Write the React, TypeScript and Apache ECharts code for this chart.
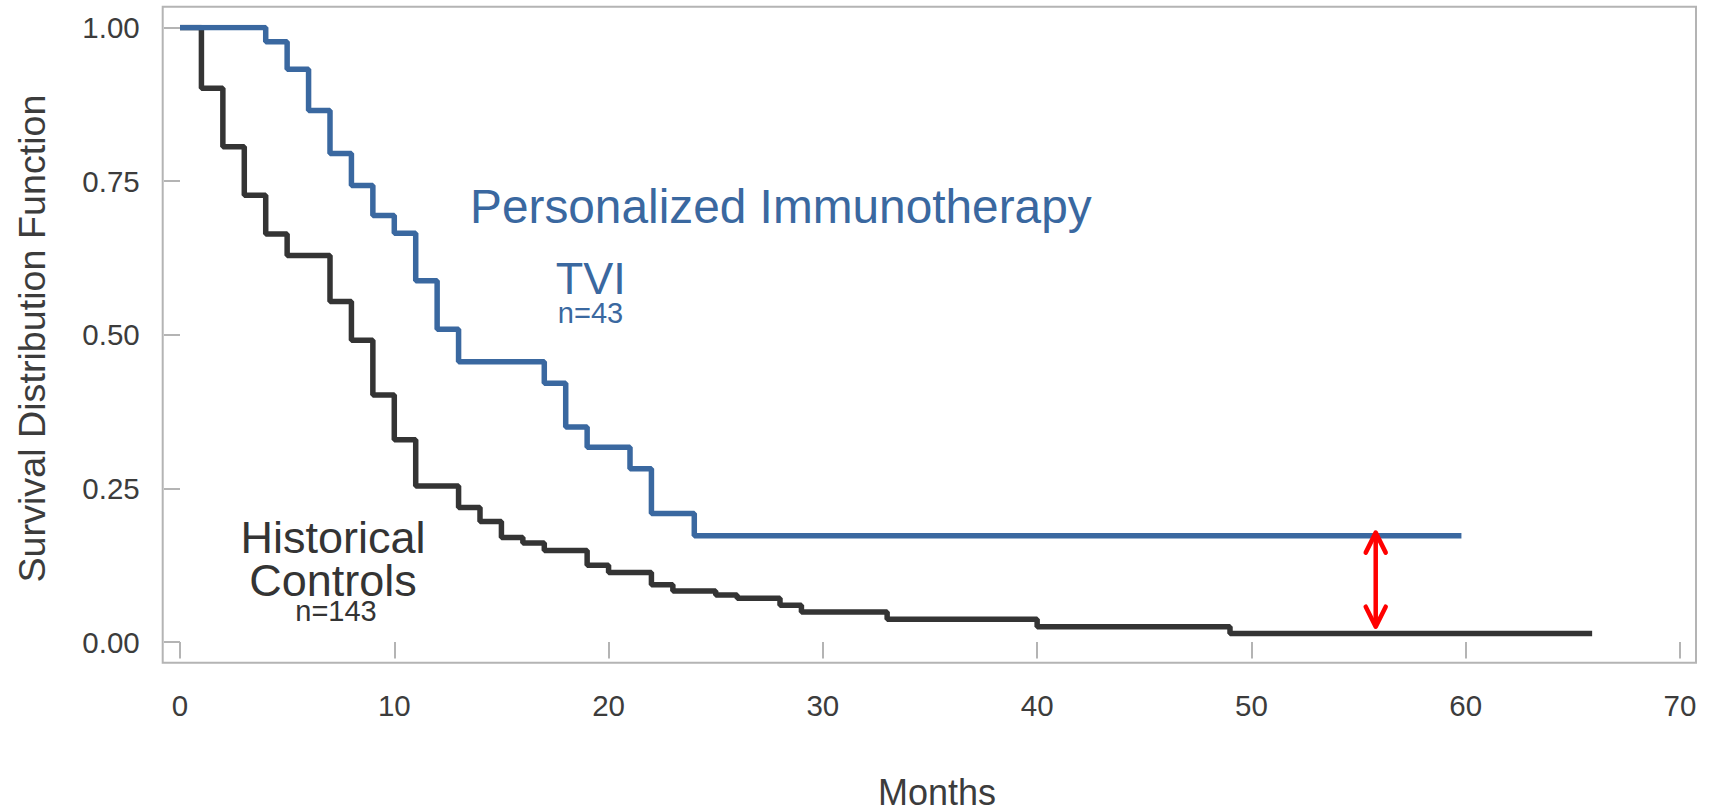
import React, { useEffect, useRef } from "react";
import * as echarts from "echarts";

// Kaplan-Meier estimates
const tviMonths = [0, 4, 5, 6, 7, 8, 9, 10, 11, 12, 13, 17, 18, 19, 21, 22, 24, 59.8];
const tviSurvival = [1.0, 0.977, 0.932, 0.865, 0.795, 0.743, 0.694, 0.665, 0.588, 0.509, 0.456, 0.421, 0.35, 0.317, 0.282, 0.209, 0.173, 0.173];

const histMonths = [0, 1, 2, 3, 4, 5, 7, 8, 9, 10, 11, 13, 14, 15, 16, 17, 19, 20, 22, 23, 25, 26, 28, 29, 33, 40, 49, 65.9];
const histSurvival = [1.0, 0.901, 0.806, 0.727, 0.664, 0.629, 0.554, 0.491, 0.402, 0.329, 0.254, 0.219, 0.196, 0.17, 0.161, 0.149, 0.125, 0.113, 0.093, 0.083, 0.0765, 0.071, 0.06, 0.049, 0.037, 0.025, 0.014, 0.014];

// Difference arrow: [month, top value, bottom value]
const arrowSpan = [55.8, 0.178, 0.025];

const xAxisRange = [0, 70, 10];
const yAxisRange = [0, 1, 0.25];

const FONT = "'Liberation Sans', Arial, Helvetica, sans-serif";
const BLUE = "#3a68a0";
const DARK = "#343434";
const GRAY = "#b4b4b4";
const LABEL = "#3c3c3c";

function label(text: string, x: number, y: number, size: number, color: string, align = "center", lh?: number) {
  return {
    type: "text",
    x,
    y,
    style: {
      text,
      fontFamily: FONT,
      fontSize: size,
      lineHeight: lh ?? size,
      fill: color,
      align,
      verticalAlign: "middle",
    },
  };
}

export default function App() {
  const ref = useRef<HTMLDivElement>(null);

  useEffect(() => {
    document.body.style.margin = "0";
    if (!ref.current) return;
    const chart = echarts.init(ref.current, null, { renderer: "svg" });

    const tviData = tviMonths.map((m, i) => [m, tviSurvival[i]]);
    const histData = histMonths.map((m, i) => [m, histSurvival[i]]);

    const option: any = {
      animation: false,
      backgroundColor: "#ffffff",
      grid: { left: 180, right: 32, top: 27.5, bottom: 169, containLabel: false },
      xAxis: {
        type: "value",
        min: xAxisRange[0],
        max: xAxisRange[1],
        interval: xAxisRange[2],
        offset: 20.7,
        axisLine: { show: false },
        axisTick: { show: true, length: 16.5, lineStyle: { color: GRAY, width: 2 } },
        axisLabel: { fontFamily: FONT, fontSize: 29.5, color: LABEL, margin: 28 },
        splitLine: { show: false },
      },
      yAxis: {
        type: "value",
        min: yAxisRange[0],
        max: yAxisRange[1],
        interval: yAxisRange[2],
        offset: 17.3,
        axisLine: { show: false },
        axisTick: { show: true, length: 16, lineStyle: { color: GRAY, width: 2 } },
        axisLabel: {
          fontFamily: FONT,
          fontSize: 29.5,
          color: LABEL,
          margin: 23,
          formatter: (v: number) => v.toFixed(2),
        },
        splitLine: { show: false },
      },
      graphic: [
        {
          type: "rect",
          z: -1,
          shape: { x: 162.7, y: 6.7, width: 1533.3, height: 656 },
          style: { fill: "none", stroke: GRAY, lineWidth: 2 },
        },
        {
          type: "text",
          x: 32,
          y: 338.5,
          rotation: Math.PI / 2,
          style: {
            text: "Survival Distribution Function",
            fontFamily: FONT,
            fontSize: 37.7,
            lineHeight: 36,
            fill: LABEL,
            align: "center",
            verticalAlign: "middle",
          },
        },
        label("Months", 937, 792, 36, LABEL, "center", 34),
        label("Personalized Immunotherapy", 470, 206, 47.8, BLUE, "left", 44),
        label("TVI", 590.7, 278, 45, BLUE, "center", 36),
        label("n=43", 590.5, 312.6, 29, BLUE, "center", 24),
        label("Historical", 333, 537, 45, DARK, "center", 40),
        label("Controls", 333, 580.5, 45, DARK, "center", 40),
        label("n=143", 336, 610.5, 29, DARK, "center", 22),
      ],
      series: [
        {
          name: "Historical Controls",
          type: "line",
          step: "end",
          symbol: "none",
          data: histData,
          lineStyle: { color: DARK, width: 5.5 },
          z: 2,
        },
        {
          name: "TVI",
          type: "line",
          step: "end",
          symbol: "none",
          data: tviData,
          lineStyle: { color: BLUE, width: 5.5 },
          z: 3,
        },
        {
          name: "Difference",
          type: "custom",
          z: 4,
          data: [arrowSpan],
          encode: { x: 0, y: [1, 2] },
          renderItem: (params: any, api: any) => {
            const top = api.coord([api.value(0), api.value(1)]);
            const bot = api.coord([api.value(0), api.value(2)]);
            const dx = 10;
            const dy = 20;
            const st = { stroke: "#ff0000", lineWidth: 4.5, lineCap: "round", lineJoin: "round", fill: "none" };
            return {
              type: "group",
              children: [
                { type: "line", shape: { x1: top[0], y1: top[1] + 2, x2: bot[0], y2: bot[1] - 2 }, style: st },
                {
                  type: "polyline",
                  shape: { points: [[top[0] - dx, top[1] + dy], [top[0], top[1]], [top[0] + dx, top[1] + dy]] },
                  style: st,
                },
                {
                  type: "polyline",
                  shape: { points: [[bot[0] - dx, bot[1] - dy], [bot[0], bot[1]], [bot[0] + dx, bot[1] - dy]] },
                  style: st,
                },
              ],
            };
          },
        },
      ],
    };

    chart.setOption(option);
    return () => chart.dispose();
  }, []);

  return (
    <div
      ref={ref}
      style={{ position: "fixed", left: 0, top: 0, width: 1712, height: 811, background: "#fff" }}
    />
  );
}
